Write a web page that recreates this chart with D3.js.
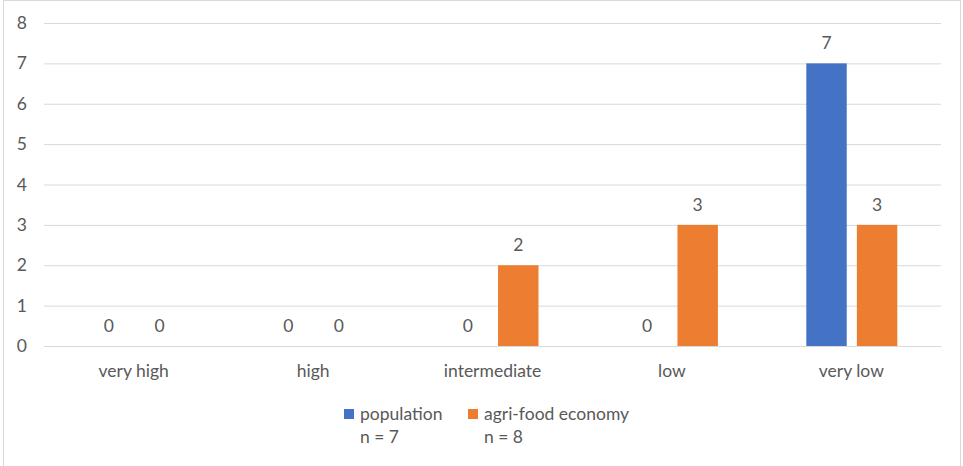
<!DOCTYPE html>
<html>
<head>
<meta charset="utf-8">
<script src="https://cdn.jsdelivr.net/npm/d3@7"></script>
<style>
  html, body { margin: 0; padding: 0; background: #fff; }
  svg { display: block; }
  text { font-family: Lato, "Open Sans", sans-serif; fill: #595959; }
</style>
</head>
<body>
<svg id="chart" width="963" height="466"></svg>
<script>
const categories = ["very high", "high", "intermediate", "low", "very low"];
const seriesNames = ["population", "agri-food economy"];
const seriesSub = ["n = 7", "n = 8"];
const population = [0, 0, 0, 0, 7];
const agriFood = [0, 0, 2, 3, 3];
const yTicks = [0, 1, 2, 3, 4, 5, 6, 7, 8];
const colors = ["#4472C4", "#ED7D31"];

const svg = d3.select("#chart");
const W = 963, H = 466;
const margin = { left: 44, right: 22, top: 23, bottom: 120 };
const plotW = W - margin.left - margin.right;
const plotH = H - margin.top - margin.bottom;
const FS = 17.5;

// frame
svg.append("rect").attr("x", 3.5).attr("y", 0.5).attr("width", 957).attr("height", 470)
  .attr("fill", "none").attr("stroke", "#d9d9d9").attr("stroke-width", 1);

const g = svg.append("g").attr("transform", `translate(${margin.left},${margin.top})`);

const x = d3.scaleBand().domain(categories).range([0, plotW]);
const x1 = d3.scaleBand().domain(seriesNames).range([x.bandwidth() / 2 - 45, x.bandwidth() / 2 + 46]).paddingInner(0.2);
const y = d3.scaleLinear().domain([0, 8]).range([plotH, 0]);

// gridlines
const yAxis = d3.axisLeft(y).tickValues(yTicks).tickSize(-plotW).tickPadding(12).tickFormat(d3.format("d"));
const ya = g.append("g").call(yAxis);
ya.select(".domain").remove();
ya.selectAll(".tick line").attr("stroke", "#d9d9d9").attr("stroke-width", 1);
ya.selectAll(".tick text").attr("font-size", FS).attr("fill", "#595959")
  .style("font-family", "Lato, 'Open Sans', sans-serif").attr("x", -17);

// x axis labels
const xAxis = d3.axisBottom(x).tickSize(0).tickPadding(19);
const xa = g.append("g").attr("transform", `translate(0,${plotH})`).call(xAxis);
xa.select(".domain").attr("stroke", "#d9d9d9");
xa.selectAll(".tick text").attr("font-size", FS).attr("fill", "#595959")
  .style("font-family", "Lato, 'Open Sans', sans-serif");

const data = categories.map((c, i) => ({ cat: c, vals: [population[i], agriFood[i]] }));

const groups = g.selectAll(".grp").data(data).enter().append("g")
  .attr("transform", d => `translate(${x(d.cat)},0)`);

groups.selectAll("rect").data(d => d.vals.map((v, j) => ({ v, s: seriesNames[j], j })))
  .enter().append("rect")
  .attr("x", d => x1(d.s))
  .attr("width", x1.bandwidth())
  .attr("y", d => y(d.v))
  .attr("height", d => plotH - y(d.v))
  .attr("fill", d => colors[d.j]);

groups.selectAll("text.lbl").data(d => d.vals.map((v, j) => ({ v, s: seriesNames[j], j })))
  .enter().append("text").attr("class", "lbl")
  .attr("x", d => x1(d.s) + x1.bandwidth() / 2)
  .attr("y", d => y(d.v) - 14)
  .attr("text-anchor", "middle")
  .attr("font-size", FS)
  .text(d => d.v);

// legend
const legX = [344, 468];
seriesNames.forEach((s, i) => {
  svg.append("rect").attr("x", legX[i]).attr("y", 409).attr("width", 10).attr("height", 10).attr("fill", colors[i]);
  svg.append("text").attr("x", legX[i] + 16).attr("y", 420).attr("font-size", FS).text(s);
  svg.append("text").attr("x", legX[i] + 16).attr("y", 443).attr("font-size", FS).text(seriesSub[i]);
});
</script>
</body>
</html>
